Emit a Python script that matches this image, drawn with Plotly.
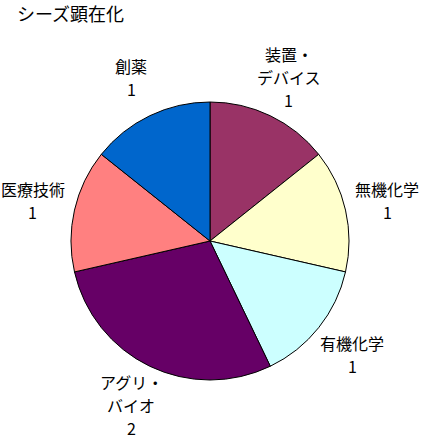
import math
import plotly.graph_objects as go

title = "シーズ顕在化"
labels = ["装置・<br>デバイス", "無機化学", "有機化学", "アグリ・<br>バイオ", "医療技術", "創薬"]
values = [1, 1, 1, 2, 1, 1]
colors = ["#993366", "#FFFFCC", "#CCFFFF", "#660066", "#FF8080", "#0066CC"]

W, H = 435, 439
cx, cy, R = 210, 241, 139   # pie centre / radius in px
label_r = 182               # distance of label centre from pie centre
line_h = 23                 # Excel-like line spacing
font = dict(family="Noto Sans CJK JP", size=16, color="black")

fig = go.Figure()
fig.add_trace(go.Pie(
    labels=[l.replace("<br>", "") for l in labels], values=values,
    sort=False, direction="clockwise", rotation=0,
    marker=dict(colors=colors, line=dict(color="black", width=1)),
    textinfo="none", hoverinfo="label+value", showlegend=False,
    domain=dict(x=[(cx - R) / W, (cx + R) / W], y=[1 - (cy + R) / H, 1 - (cy - R) / H]),
))

# labels outside the slices, one annotation per text line
total = sum(values)
start = 0
annotations = []
for lab, v in zip(labels, values):
    mid = (start + v / 2) / total * 2 * math.pi
    start += v
    px = cx + label_r * math.sin(mid)
    py = cy - label_r * math.cos(mid)
    lines = lab.split("<br>") + [str(v)]
    n = len(lines)
    for i, t in enumerate(lines):
        annotations.append(dict(
            x=px / W, y=1 - py / H, xref="paper", yref="paper",
            text=t, showarrow=False, font=font,
            xanchor="center", yanchor="middle",
            yshift=-(i - (n - 1) / 2) * line_h,
        ))

annotations.append(dict(
    x=15 / W, y=1 - 13 / H, xref="paper", yref="paper", text=title,
    showarrow=False, font=dict(family="Noto Sans CJK JP", size=18, color="black"),
    xanchor="left", yanchor="middle",
))

fig.update_layout(
    width=W, height=H, margin=dict(l=0, r=0, t=0, b=0),
    paper_bgcolor="white", plot_bgcolor="white",
    annotations=annotations,
)

# drop the default page margin so the figure sits at the window's corner
fig.write_html("out.html", config={"displayModeBar": False},
               post_script="document.body.style.margin='0';")
